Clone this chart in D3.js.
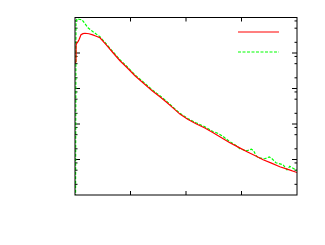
<!DOCTYPE html>
<script src="https://d3js.org/d3.v7.min.js"></script>
<style>body{margin:0;background:#fff}</style>
<svg width="325" height="245"></svg>
<script>
// series 1 (red, solid) and series 2 (green, dashed), y on log scale
const xRed = [0, 0.018, 0.02, 0.036, 0.054, 0.072, 0.108, 0.144, 0.18, 0.252, 0.32, 0.36, 0.45, 0.56, 0.685, 0.81, 0.94, 1.08, 1.225, 1.39, 1.53, 1.65, 1.77, 1.89, 2.03, 2.18, 2.34, 2.49, 2.64, 2.79, 2.95, 3.1, 3.24, 3.39, 3.54, 3.69, 3.85, 4.0];
const yRed = [5300, 5670, 17000, 19450, 21000, 23600, 32700, 35000, 36000, 34800, 32500, 30600, 26900, 17100, 10160, 6050, 3840, 2290, 1450, 865, 586, 410, 280, 190, 136, 102, 77, 56.7, 41, 29.6, 22, 16.5, 12.9, 9.84, 7.9, 6.25, 5.2, 4.3];

const xGreen = [0, 0.01, 0.018, 0.036, 0.054, 0.09, 0.126, 0.18, 0.234, 0.324, 0.45, 0.56, 0.685, 0.81, 0.94, 1.08, 1.225, 1.39, 1.53, 1.65, 1.77, 1.89, 2.03, 2.18, 2.34, 2.49, 2.57, 2.65, 2.79, 2.9, 2.97, 3.1, 3.18, 3.22, 3.26, 3.3, 3.42, 3.5, 3.55, 3.62, 3.75, 3.82, 3.87, 3.91, 3.96, 4.0];
const yGreen = [0.5, 0.5, 75900, 92200, 90000, 88000, 86500, 66700, 51400, 39700, 28600, 18200, 10800, 6450, 4100, 2430, 1550, 923, 625, 440, 295, 200, 143, 108, 83.6, 60.5, 55, 46.7, 31.6, 25, 20.1, 17.6, 19.5, 17.6, 13, 11.2, 10.5, 11.8, 10.5, 8.1, 7.1, 5.1, 6.4, 5.9, 5.3, 4.8];

const xTicks = [1, 2, 3];
const yMajor = [10, 100, 1000, 10000];
const yMinorMult = [2, 5, 8];

const margin = {left: 75, right: 28, top: 17.5, bottom: 50};
const W = 325, H = 245;
const x0 = margin.left, x1 = W - margin.right, y0 = H - margin.bottom, y1 = margin.top;

const x = d3.scaleLinear().domain([0, 4]).range([x0, x1]);
const y = d3.scaleLog().domain([1, 1e5]).range([y0, y1]);

const svg = d3.select("svg");

svg.append("clipPath").attr("id", "clip")
    .append("rect").attr("x", x0).attr("y", y1).attr("width", x1 - x0).attr("height", y0 - y1);

// ticks
const yMinor = [];
[1, 10, 100, 1000, 10000].forEach(d => yMinorMult.forEach(m => yMinor.push(d * m)));

const tg = svg.append("g").attr("stroke", "#000").attr("stroke-width", 1);
yMajor.forEach(v => {
    tg.append("line").attr("x1", x0).attr("x2", x0 + 5).attr("y1", y(v)).attr("y2", y(v));
    tg.append("line").attr("x1", x1).attr("x2", x1 - 5).attr("y1", y(v)).attr("y2", y(v));
});
yMinor.forEach(v => {
    tg.append("line").attr("x1", x0).attr("x2", x0 + 2.5).attr("y1", y(v)).attr("y2", y(v));
    tg.append("line").attr("x1", x1).attr("x2", x1 - 2.5).attr("y1", y(v)).attr("y2", y(v));
});
xTicks.forEach(v => {
    tg.append("line").attr("x1", x(v)).attr("x2", x(v)).attr("y1", y0).attr("y2", y0 - 4);
    tg.append("line").attr("x1", x(v)).attr("x2", x(v)).attr("y1", y1).attr("y2", y1 + 4);
});

// curves
const plot = svg.append("g").attr("clip-path", "url(#clip)");
const redPts = xRed.map((d, i) => [d, yRed[i]]);
const greenPts = xGreen.map((d, i) => [d, yGreen[i]]);
const line = d3.line().x(d => x(d[0])).y(d => y(Math.max(d[1], 0.5)));

plot.append("path").datum(greenPts).attr("d", line)
    .attr("fill", "none").attr("stroke", "#00ff00").attr("stroke-width", 1.2)
    .attr("stroke-dasharray", "3,1.5");
plot.append("path").datum(redPts).attr("d", line)
    .attr("fill", "none").attr("stroke", "#ff0000").attr("stroke-width", 1.2);

// border
svg.append("rect").attr("x", x0).attr("y", y1).attr("width", x1 - x0).attr("height", y0 - y1)
    .attr("fill", "none").attr("stroke", "#000").attr("stroke-width", 1);

// legend (no titles)
svg.append("line").attr("x1", 238).attr("x2", 279).attr("y1", 32).attr("y2", 32)
    .attr("stroke", "#ff0000").attr("stroke-width", 1.2);
svg.append("line").attr("x1", 238).attr("x2", 279).attr("y1", 52).attr("y2", 52)
    .attr("stroke", "#00ff00").attr("stroke-width", 1.2).attr("stroke-dasharray", "3,1.5");
</script>
